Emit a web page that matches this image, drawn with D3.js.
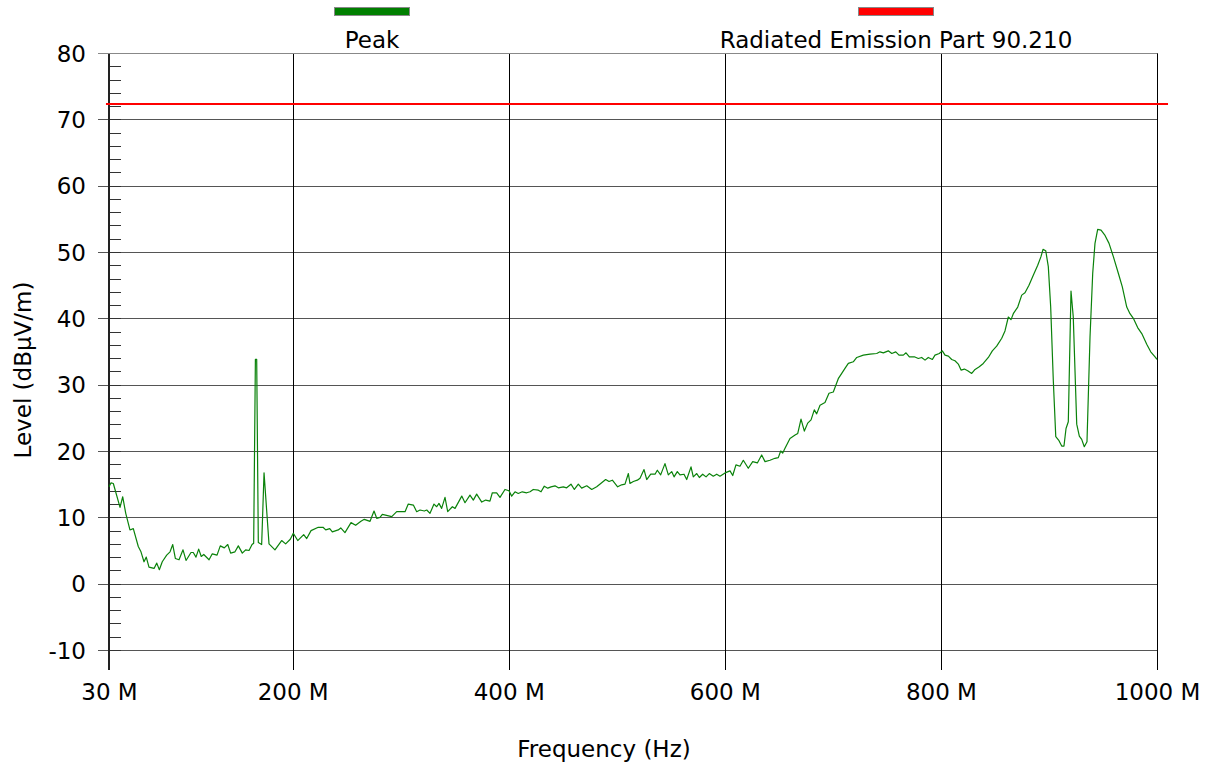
<!DOCTYPE html>
<html>
<head>
<meta charset="utf-8">
<script src="https://cdn.jsdelivr.net/npm/d3@7"></script>
<style>
  html, body { margin: 0; padding: 0; background: #fff; }
  svg { display: block; font-family: "DejaVu Sans", Verdana, sans-serif; }
</style>
</head>
<body>
<svg id="chart" width="1212" height="764"></svg>
<script>
// ---- data ----
const xTicks = [30, 200, 400, 600, 800, 1000];
const yTicks = [-10, 0, 10, 20, 30, 40, 50, 60, 70, 80];
const yMinorTicks = d3.range(-10, 80.1, 2);
const seriesNames = ["Peak", "Radiated Emission Part 90.210"];

// Peak trace: frequency (MHz) and level (dBµV/m)
const peakFreq = [
  30.0, 31.9, 34.0, 40.2, 42.7, 45.5, 49.4, 52.5, 57.1, 59.6, 62.4, 64.5, 67.0, 71.7, 74.2, 76.6, 79.3,
  83.4, 86.5, 89.0, 91.4, 94.8, 98.5, 101.3, 105.9, 108.0, 110.5, 113.0, 115.4, 117.7, 122.6, 125.6,
  130.0, 133.0, 136.7, 139.9, 142.6, 146.6, 149.7, 153.4, 156.5, 159.6, 162.4, 163.9, 165.5, 166.7,
  168.2, 171.3, 173.5, 178.1, 183.6, 189.8, 193.5, 197.8, 200.6, 204.7, 210.2, 213.0, 217.0, 223.7,
  228.1, 230.6, 234.3, 236.7, 242.2, 244.5, 248.4, 254.0, 258.3, 263.2, 266.3,
  271.6, 275.3, 277.8, 280.8, 283.0, 291.7, 296.3, 304.0, 307.0, 311.7, 314.8, 317.9, 321.8, 324.1,
  327.1, 330.8, 333.3, 335.4, 337.9, 341.0, 343.5, 347.8, 350.3, 356.5, 359.5, 364.1, 367.2, 370.3,
  375.0, 378.7, 382.6, 384.8, 388.8, 391.9, 396.5, 400.2, 402.7, 405.8, 408.8, 412.5, 416.6, 419.7,
  422.7, 427.4, 429.9, 432.9, 436.1, 439.1, 442.8, 445.9, 450.5, 453.6, 457.6, 460.7, 464.4, 467.5,
  472.2, 476.8, 481.4, 486.0, 489.7, 492.8, 495.9, 500.8, 504.5, 507.6,
  510.7, 512.2, 515.3, 519.0, 521.5, 525.2, 527.7, 531.4, 535.4, 537.5, 540.6, 544.6, 547.7, 550.8,
  553.0, 556.0, 558.5, 562.2, 564.7, 568.7, 570.8, 574.0, 576.4, 579.5, 582.6, 585.6, 589.3, 592.5,
  595.5, 600.2, 604.8, 607.3, 610.3, 614.0, 617.1, 621.7, 625.8, 630.1, 634.1, 637.2, 641.8, 646.4,
  649.5, 651.7, 653.6,
  655.7, 660.3, 665.0, 667.5, 670.5, 673.6, 676.7, 679.8, 682.8, 685.0, 688.1, 692.7, 696.4, 700.4,
  705.0, 708.2, 711.2, 714.3, 718.9, 722.1, 728.2, 734.4, 740.6, 743.6, 746.7,
  751.3, 754.5, 758.2, 761.2, 765.2, 767.7, 770.8, 775.4, 779.1, 782.2, 785.3, 788.3, 792.1, 794.5,
  798.5, 801.3, 803.8, 806.9, 810.0, 813.0, 816.1, 818.6, 821.7, 824.8, 828.5, 831.6, 835.5, 839.2,
  843.9, 847.6, 851.6, 856.3, 859.3, 862.4, 864.9, 867.0, 871.1, 874.8, 877.8, 881.5, 885.5, 889.6,
  892.6, 894.5, 897.0, 899.4, 901.6, 904.0, 906.3, 909.3, 911.8, 913.9, 915.8, 917.9, 920.4, 922.5,
  925.7, 928.1, 930.3, 932.7, 935.2, 938.0, 940.5, 942.6, 945.1, 948.2, 951.9, 955.6, 959.6, 964.2,
  967.9, 972.0, 975.0, 978.1, 982.1, 985.9, 990.5, 994.2, 998.2, 1000.0
];
const peakLevel = [
  14.6, 15.2, 15.1, 11.5, 13.1, 10.6, 8.1, 8.3, 5.6, 4.8, 3.3, 4.0, 2.5, 2.3, 3.1, 2.1, 3.3,
  4.3, 4.8, 5.9, 3.8, 3.6, 5.1, 3.5, 4.7, 4.7, 4.0, 5.2, 4.1, 4.4, 3.6, 4.5,
  4.3, 5.7, 5.4, 5.9, 4.6, 4.8, 5.7, 4.6, 5.1, 5.0, 5.9, 6.1, 33.8, 33.8,
  6.2, 5.9, 16.7, 6.0, 5.1, 6.5, 6.0, 6.7, 7.6, 6.5, 7.4, 6.8, 8.0, 8.5,
  8.5, 8.1, 8.3, 7.8, 8.1, 8.4, 7.7, 9.2, 8.8, 9.4, 9.7,
  9.4, 10.95, 9.85, 10.0, 10.45, 10.1, 10.85, 10.85, 12.0, 11.85, 10.85, 11.1, 10.95, 11.1,
  10.6, 12.0, 11.6, 12.1, 11.35, 13.0, 10.85, 11.6, 11.35, 13.2, 12.2, 13.35, 12.6, 13.5,
  12.3, 12.6, 12.45, 13.7, 13.7, 13.0, 14.2, 14.0, 13.2, 13.85, 13.6, 13.85, 13.7, 13.85,
  14.2, 14.1, 13.85, 14.7, 14.4, 14.6, 14.75, 14.45, 14.6, 14.45, 15.0, 14.2, 15.0, 14.4,
  14.75, 14.2, 14.6, 15.2, 15.7, 15.4, 15.6, 14.6, 14.9, 15.0,
  16.6, 15.1, 15.4, 15.6, 15.9, 17.2, 15.7, 16.5, 16.5, 17.1, 16.4, 18.1, 16.4, 16.9,
  16.1, 16.9, 16.4, 16.5, 15.7, 17.6, 16.1, 16.6, 16.0, 16.5, 16.1, 16.6, 16.2, 16.5,
  16.2, 16.7, 17.0, 16.3, 17.9, 17.7, 18.6, 17.4, 18.4, 18.2, 19.4, 18.4, 18.6, 18.9,
  19.0, 20.0, 19.7,
  20.4, 21.9, 22.4, 22.65, 24.8, 23.0, 24.2, 24.7, 26.2, 25.6, 26.9, 27.3, 28.7, 28.9,
  30.9, 31.7, 32.45, 33.2, 33.45, 34.1, 34.45, 34.6, 34.7, 34.95, 34.8,
  35.1, 34.7, 34.95, 34.45, 34.45, 34.8, 34.2, 34.2, 33.95, 34.1, 33.7, 34.1, 33.8, 34.45,
  34.7, 35.1, 34.45, 34.3, 33.8, 33.6, 33.1, 32.2, 32.35, 32.1, 31.7, 32.3, 32.7, 33.2,
  34.1, 35.1, 35.8, 37.0, 38.1, 40.2, 39.8, 40.7, 41.7, 43.5, 43.85, 45.0, 46.5, 48.0,
  49.3, 50.4, 50.2, 47.8, 41.7, 30.7, 22.15, 21.55, 20.75, 20.75, 23.4, 24.4, 44.1, 40.2,
  24.05, 22.25, 21.75, 20.65, 21.4, 37.2, 46.8, 51.3, 53.4, 53.3, 52.5, 51.3, 49.3, 46.8,
  44.75, 41.7, 40.7, 40.0, 38.6, 37.7, 36.1, 34.95, 34.2, 33.8
];

// Limit line: Radiated Emission Part 90.210
const limitFreq = [27.2, 1010.2];
const limitLevel = [72.3, 72.3];

// ---- drawing ----
const svg = d3.select("#chart");
const plotL = 109, plotR = 1157, plotT = 53, plotB = 650, tickB = 670;

const x = d3.scaleLinear().domain([30, 1000]).range([plotL, plotR]);
const y = d3.scaleLinear().domain([-10, 80]).range([plotB, plotT]);

const FS = 23;
const FF = "DejaVu Sans, Verdana, sans-serif";

// horizontal grid + y labels
const gy = svg.append("g")
  .attr("transform", `translate(98,0)`)
  .call(d3.axisLeft(y).tickValues(yTicks).tickSize(-(plotR - 98)).tickPadding(12).tickFormat(d => String(d)));
gy.select(".domain").remove();
gy.selectAll(".tick line").attr("stroke", "#555").attr("shape-rendering", "crispEdges");
gy.selectAll(".tick text").attr("font-size", FS).attr("fill", "#000").attr("font-family", FF).attr("dy", "0.36em");

// vertical grid + x labels
const gx = svg.append("g")
  .attr("transform", `translate(0,${tickB})`)
  .call(d3.axisBottom(x).tickValues(xTicks).tickSize(-(tickB - plotT)).tickPadding(14).tickFormat(d => d + " M"));
gx.select(".domain").remove();
gx.selectAll(".tick line").attr("stroke", "#000").attr("shape-rendering", "crispEdges");
gx.selectAll(".tick text").attr("font-size", FS).attr("fill", "#000").attr("font-family", FF);

// minor ticks
const gm = svg.append("g")
  .attr("transform", `translate(${plotL},0)`)
  .call(d3.axisRight(y).tickValues(yMinorTicks).tickSize(12).tickFormat(""));
gm.select(".domain").remove();
gm.selectAll(".tick line").attr("stroke", "#333").attr("shape-rendering", "crispEdges");

// left axis thick line
svg.append("line")
  .attr("x1", x(30)).attr("x2", x(30)).attr("y1", plotT).attr("y2", tickB)
  .attr("stroke", "#222").attr("stroke-width", 2).attr("shape-rendering", "crispEdges");
// top border gray
svg.append("line")
  .attr("x1", 98).attr("x2", plotR + 0.5).attr("y1", Math.round(y(80)) + 0.5).attr("y2", Math.round(y(80)) + 0.5)
  .attr("stroke", "#888");

// limit line
const line = d3.line().x(d => x(d[0])).y(d => y(d[1]));
svg.append("path")
  .datum(limitFreq.map((f, i) => [f, limitLevel[i]]))
  .attr("d", line)
  .attr("fill", "none").attr("stroke", "#ff0000").attr("stroke-width", 2);

// peak trace
svg.append("path")
  .datum(peakFreq.map((f, i) => [f, peakLevel[i]]))
  .attr("d", line)
  .attr("fill", "none").attr("stroke", "#0a820a").attr("stroke-width", 1.2).attr("stroke-linejoin", "round");

// axis titles
svg.append("text")
  .attr("x", 604).attr("y", 757)
  .attr("text-anchor", "middle").attr("font-size", FS).attr("fill", "#000")
  .text("Frequency (Hz)");
svg.append("text")
  .attr("transform", "translate(31,370) rotate(-90)")
  .attr("text-anchor", "middle").attr("font-size", FS).attr("fill", "#000")
  .text("Level (dBµV/m)");

// legend
const legendColors = ["#007f00", "#ff0000"];
const legendCenters = [372, 896];
seriesNames.forEach((name, i) => {
  svg.append("rect")
    .attr("x", legendCenters[i] - 37.5).attr("y", 7.5).attr("width", 75).attr("height", 8)
    .attr("fill", legendColors[i]).attr("stroke", "#888").attr("stroke-width", 1);
  svg.append("text")
    .attr("x", legendCenters[i]).attr("y", 48)
    .attr("text-anchor", "middle").attr("font-size", FS).attr("fill", "#000")
    .text(name);
});
</script>
</body>
</html>
